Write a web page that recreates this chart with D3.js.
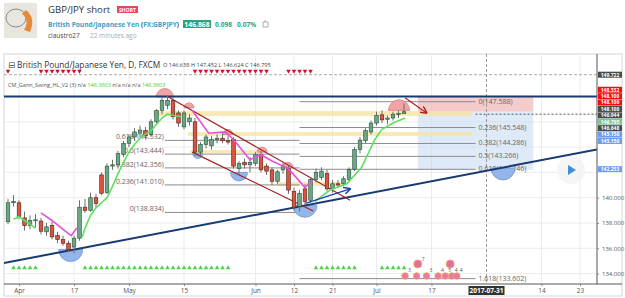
<!DOCTYPE html>
<html lang="en">
<head>
<meta charset="UTF-8">
<title>GBP/JPY short</title>
<script src="https://cdn.jsdelivr.net/npm/d3@7"></script>
<style>
    body { margin: 0; background: #fff; }
    svg text { font-family: "Open Sans", "DejaVu Sans", sans-serif; }
</style>
</head>
<body>
<svg id="chart" width="625" height="298"></svg>
<script>
// daily candles, index 0 = 2017-03-30 ... index 72 = 2017-07-10
const opens  = [138.1,139.6,139.6,138.4,137.8,138.2,138.15,137.3,137.8,137.0,136.7,136.4,136.1,136.8,139.25,139.0,140.0,141.8,140.4,142.5,142.6,143.4,144.3,144.8,145.1,145.3,145.0,146.0,146.9,147.3,147.7,146.7,145.6,146.0,146.0,143.6,144.2,144.1,144.6,144.7,144.5,144.6,142.3,142.8,142.6,142.7,143.4,142.5,142.2,141.3,142.2,142.3,140.5,139.3,140.7,139.8,141.45,141.6,141.9,140.7,141.1,141.1,141.45,142.25,143.8,144.5,145.2,145.9,146.55,146.2,146.3,146.6,146.638];
const highs  = [139.9,140.2,139.8,138.9,138.6,138.7,138.4,138.0,138.1,137.3,137.0,136.6,137.0,139.8,139.9,140.4,140.3,142.0,142.7,143.0,143.7,144.5,145.0,145.5,145.7,145.6,146.2,147.0,147.9,148.1,147.9,146.9,146.9,146.6,146.3,144.4,145.0,144.9,145.0,145.1,144.9,144.8,142.9,143.1,143.2,143.6,143.7,142.7,142.4,142.2,142.8,142.6,140.8,140.6,141.1,141.6,142.3,142.4,142.2,141.4,141.4,141.7,142.4,144.0,144.8,145.5,146.1,146.8,146.9,146.5,146.8,146.9,147.452];
const lows   = [137.9,139.3,138.3,137.4,137.5,137.6,137.1,137.0,136.7,136.4,136.2,135.7,135.6,136.6,138.8,138.9,139.2,140.2,140.3,142.2,142.3,143.2,144.0,144.5,144.8,144.6,144.8,145.8,146.6,147.0,146.2,145.6,145.4,145.7,143.3,143.2,143.9,143.8,144.3,144.3,144.2,142.3,141.8,142.3,142.0,142.5,142.0,141.8,141.0,141.1,141.9,140.3,139.0,138.9,139.4,139.6,141.2,141.4,140.5,140.4,140.8,140.9,141.3,142.1,143.5,144.3,145.0,145.7,145.9,145.8,146.1,146.3,146.624];
const closes = [139.6,139.7,138.5,137.8,138.2,138.25,137.35,137.7,136.9,136.7,136.4,135.9,136.8,139.25,139.0,140.0,139.55,140.35,142.5,142.6,143.5,144.3,144.8,145.2,145.35,144.9,146.0,146.9,147.7,147.7,146.4,145.9,146.7,146.3,143.6,144.2,144.8,144.6,144.7,144.5,144.4,142.5,142.7,142.6,142.8,143.4,142.2,142.1,141.3,142.05,142.45,140.6,139.2,140.35,139.7,141.45,142.0,142.1,140.7,141.1,141.0,141.5,142.25,143.8,144.55,145.3,145.9,146.5,146.15,146.3,146.6,146.65,146.795];

// time axis
const tickBars   = [2, 12, 22, 32, 45, 52, 59, 67, 77, 97, 104];
const tickLabels = ["Apr", "17", "May", "15", "Jun", "12", "21", "Jul", "17", "14", "23"];
const cursorBar = 87, cursorLabel = "2017-07-31";

// price axis
const priceTicks = [134, 136, 138, 140];
const gridPrices = [134, 136, 138, 140, 142, 144, 146, 148];
const axisTags = [
    {v: "149.722", kind: "gray"}, {v: "148.532", kind: "red"}, {v: "148.100", kind: "red"},
    {v: "148.100", kind: "red"}, {v: "148.100", kind: "gray"}, {v: "146.944", kind: "gray"},
    {v: "146.795", kind: "green"}, {v: "146.648", kind: "gray"}, {v: "145.150", kind: "blue"},
    {v: "145.150", kind: "blue"}, {v: "142.253", kind: "blue"}
];

// Gann swing lines [bar, price]
const gannUp = [
    [[1,138.3],[2,138.5],[3,138.2],[5,137.6]],
    [[13.5,136.9],[14,137.6],[15,138.6],[16,139.2],[17,139.6],[18,140.0],[19,140.9],[20,141.9],[21,142.8],[22,143.6],[23,144.2],[24,144.7],[25,145.0],[26,145.3],[27,145.8],[28,146.3],[29,146.6],[30,146.5],[31.5,146.4]],
    [[55.8,139.7],[58.5,140.6],[61.6,141.1],[64.3,142.4],[66.7,144.6],[68,145.4],[70,145.9],[72.2,146.3]]
];
const gannDown = [
    [[6,138.8],[8,138.2],[10,137.5],[11.5,137.0],[12.5,137.6]],
    [[33.5,146.9],[36.5,145.1],[39.5,145.2],[41,144.6],[44,143.0],[46,143.4],[48,142.9],[51,142.3],[54,140.8],[55.3,141.4]]
];

// swing pivots [bar, price, strength]
const pivotHighs = [[28.5,147.96,2],[32.9,147.1,1],[40,145.0,1],[46.2,143.6,1],[50.9,142.4,1],[71.1,146.9,2.6]];
const pivotLows  = [[11.4,135.9,3],[34.5,143.5,1],[42,142.0,2],[54,139.4,3],[90,142.35,3]];

// drawings
const resistance = 148.0;
const trendline = [[0, 134.9], [107, 143.8]];
const channelUpper = [[29, 148.0], [62.2, 139.8]];
const channelLower = [[33.5, 143.6], [55.5, 138.95]];
const upArrow   = [[54.1, 139.55], [62.2, 140.7]];
const downArrow = [[72.2, 147.9], [76.1, 146.7]];
const zones = [
    {from: 26.4, to: 84.4, lo: 146.45, hi: 146.85},
    {from: 32.7, to: 84.4, lo: 144.88, hi: 145.19},
    {from: 33.1, to: 46.4, lo: 143.53, hi: 143.77},
    {from: 48.9, to: 61.3, lo: 140.93, hi: 141.24}
];
const fibA = {from: 28.5, to: 53, ratios: ["0.618","0.5","0.382","0.236","0"], prices: [144.532,143.444,142.356,141.010,138.834]};
const fibB = {from: 53, to: 85, ratios: ["0","0.236","0.382","0.5","0.618","1.618"], prices: [147.588,145.548,144.286,143.266,142.246,133.602]};
const position = {from: 74.5, to: 95.5, stop: 148.05, entry: 146.8, target: 142.2};
const highLevel = 149.722, lastLevel = 146.6;

const sellBars = [0,6,7,8,9,10,11,12,13,34,35,36,37,38,39,40,41,42,43,44,45,46,47,51,52,53,54,55];
const buyBars  = [1,2,3,4,5,14,15,16,17,18,19,20,21,22,23,24,25,26,27,28,29,30,31,32,33,34,35,36,37,38,39,40,56,57,58,59,60,61,62,63,68,69,70,71,72];
const eventBars   = [72.2, 74.3, 76.1, 78.2, 79.5, 80.7, 81.6];
const eventCounts = ["3", "", "3", "4", "5", "4", "4"];
const bigEvents   = [[74.5, "7"], [80.4, ""]];

const svg = d3.select("#chart");
const plotL = 4, plotR = 597, plotT = 54, plotB = 284;

const x = d3.scaleLinear().domain([-8 / 5.5, (plotR - 8) / 5.5]).range([0, plotR]);
const y = d3.scaleLinear().domain([134, 140]).range([273.6, 197.7]);
const rScale = d3.scaleLinear().domain([1, 3]).range([5, 12]);

const defs = svg.append("defs");
defs.append("clipPath").attr("id", "plotClip")
    .append("rect").attr("x", plotL).attr("y", plotT).attr("width", plotR - plotL).attr("height", plotB - plotT);
[["arrRed", "#b0201e"], ["arrBlue", "#1f3fb5"]].forEach(([id, c]) => {
    defs.append("marker").attr("id", id).attr("viewBox", "0 0 10 10").attr("refX", 9).attr("refY", 5)
        .attr("markerWidth", 6).attr("markerHeight", 6).attr("orient", "auto")
        .append("path").attr("d", "M0,0 L10,5 L0,10").attr("fill", "none").attr("stroke", c).attr("stroke-width", 2);
});

// ---------- header ----------
const head = svg.append("g");
head.append("rect").attr("x", 4).attr("y", 3).attr("width", 33).attr("height", 35).attr("fill", "#e9e6df");
head.append("ellipse").attr("cx", 16).attr("cy", 18).attr("rx", 10).attr("ry", 9).attr("fill", "none").attr("stroke", "#8a8a8a").attr("stroke-width", 1);
head.append("path").attr("d", "M26,10 Q36,18 30,32 L24,30 Q30,20 22,14 Z").attr("fill", "#e58a3a");
head.append("text").attr("x", 48).attr("y", 13).attr("font-size", 9.6).attr("fill", "#333").text("GBP/JPY short");
head.append("rect").attr("x", 117).attr("y", 6).attr("width", 21).attr("height", 7).attr("fill", "#e8455c");
head.append("text").attr("x", 127.5).attr("y", 11.5).attr("text-anchor", "middle").attr("font-size", 5).attr("font-weight", "bold").attr("fill", "#fff").text("SHORT");
const sub = head.append("text").attr("x", 48).attr("y", 26.5).attr("font-size", 6.6).attr("font-weight", "bold");
[["British Pound/Japanese Yen", "#35a2c8"], [" (", "#555"], ["FX:GBPJPY", "#35a2c8"], [")", "#555"]]
    .forEach(([t, c]) => sub.append("tspan").attr("fill", c).text(t));
head.append("rect").attr("x", 183).attr("y", 20).attr("width", 28).attr("height", 8).attr("fill", "#2aa57a");
head.append("text").attr("x", 197).attr("y", 26.5).attr("text-anchor", "middle").attr("font-size", 6.8).attr("font-weight", "bold").attr("fill", "#fff").text("146.868");
head.append("text").attr("x", 215).attr("y", 26.5).attr("font-size", 6.6).attr("font-weight", "bold").attr("fill", "#2aa57a").text("0.098");
head.append("text").attr("x", 237).attr("y", 26.5).attr("font-size", 6.6).attr("font-weight", "bold").attr("fill", "#2aa57a").text("0.07%");
head.append("path").attr("d", "M263,22 h5 v5 h-5 Z M265,20 v2").attr("fill", "none").attr("stroke", "#999").attr("stroke-width", 0.8);
head.append("text").attr("x", 48).attr("y", 37.5).attr("font-size", 6.5).attr("fill", "#444").text("claustro27");
head.append("text").attr("x", 90).attr("y", 37.5).attr("font-size", 6.5).attr("fill", "#aaa").text("22 minutes ago");

// ---------- frame & grid ----------
svg.append("rect").attr("x", plotL).attr("y", plotT).attr("width", 622 - plotL).attr("height", 296 - plotT)
    .attr("fill", "none").attr("stroke", "#d6d6d6").attr("stroke-width", 1);

const plot = svg.append("g").attr("clip-path", "url(#plotClip)");
plot.selectAll(".vgrid").data(tickBars).join("line").attr("class", "vgrid")
    .attr("x1", d => x(d)).attr("x2", d => x(d)).attr("y1", plotT).attr("y2", plotB)
    .attr("stroke", "#ececec").attr("stroke-width", 1);
plot.selectAll(".hgrid").data(gridPrices).join("line").attr("class", "hgrid")
    .attr("x1", plotL).attr("x2", plotR).attr("y1", d => y(d)).attr("y2", d => y(d))
    .attr("stroke", "#ececec").attr("stroke-width", 1);

// position tool background
plot.append("rect").attr("x", x(position.from)).attr("width", x(position.to) - x(position.from))
    .attr("y", y(position.stop)).attr("height", y(position.entry) - y(position.stop))
    .attr("fill", "#f3b9b9").attr("opacity", 0.75);
plot.append("rect").attr("x", x(position.from)).attr("width", x(position.to) - x(position.from))
    .attr("y", y(position.entry)).attr("height", y(position.target) - y(position.entry))
    .attr("fill", "#c9dcf3").attr("opacity", 0.6);

// zones
plot.selectAll(".zone").data(zones).join("rect").attr("class", "zone")
    .attr("x", d => x(d.from)).attr("width", d => x(d.to) - x(d.from))
    .attr("y", d => y(d.hi)).attr("height", d => y(d.lo) - y(d.hi))
    .attr("fill", "#f8e3a1").attr("opacity", 0.8);

// dashed levels
plot.append("line").attr("x1", plotL).attr("x2", plotR).attr("y1", y(highLevel)).attr("y2", y(highLevel))
    .attr("stroke", "#aaa").attr("stroke-dasharray", "3,2");
plot.append("line").attr("x1", x(85)).attr("x2", plotR).attr("y1", y(lastLevel)).attr("y2", y(lastLevel))
    .attr("stroke", "#555").attr("stroke-dasharray", "2,2");
plot.append("line").attr("x1", x(cursorBar)).attr("x2", x(cursorBar)).attr("y1", plotT).attr("y2", plotB)
    .attr("stroke", "#999").attr("stroke-dasharray", "3,2");

// fibonacci retracements
function drawFib(f, side) {
    const g = plot.append("g");
    g.selectAll("line").data(f.prices).join("line")
        .attr("x1", x(f.from)).attr("x2", x(f.to)).attr("y1", d => y(d)).attr("y2", d => y(d))
        .attr("stroke", "#8c8c8c").attr("stroke-width", 1);
    g.selectAll("text").data(f.prices).join("text")
        .attr("x", side === "left" ? x(f.from) - 1 : x(f.to) + 3)
        .attr("y", d => side === "left" ? y(d) - 1 : y(d) + 2)
        .attr("text-anchor", side === "left" ? "end" : "start")
        .attr("font-size", 7).attr("fill", "#666")
        .text((d, i) => f.ratios[i] + "(" + d3.format(".3f")(d) + ")");
}
drawFib(fibA, "left");
drawFib(fibB, "right");

// pivots (half domes)
const arcUp = d3.arc().innerRadius(0).startAngle(-Math.PI / 2).endAngle(Math.PI / 2);
const arcDn = d3.arc().innerRadius(0).startAngle(Math.PI / 2).endAngle(Math.PI * 1.5);
plot.selectAll(".ph").data(pivotHighs).join("path").attr("class", "ph")
    .attr("transform", d => `translate(${x(d[0])},${y(d[1])})`)
    .attr("d", d => arcUp({outerRadius: rScale(d[2])}))
    .attr("fill", "#f2a3a3").attr("stroke", "#e07e7e").attr("stroke-width", 0.8);
plot.selectAll(".pl").data(pivotLows).join("path").attr("class", "pl")
    .attr("transform", d => `translate(${x(d[0])},${y(d[1])})`)
    .attr("d", d => arcDn({outerRadius: rScale(d[2])}))
    .attr("fill", "#93b5ea").attr("stroke", "#6f95d8").attr("stroke-width", 0.8);

// lines
const lineOf = d3.line().x(d => x(d[0])).y(d => y(d[1]));
function extend(pts) {
    const [a, b] = pts, k = (b[1] - a[1]) / (b[0] - a[0]);
    const d0 = x.domain()[0], d1 = x.domain()[1];
    return [[d0, a[1] + k * (d0 - a[0])], [d1, a[1] + k * (d1 - a[0])]];
}
plot.append("line").attr("x1", plotL).attr("x2", plotR).attr("y1", y(resistance)).attr("y2", y(resistance))
    .attr("stroke", "#173a72").attr("stroke-width", 2);
plot.append("path").attr("d", lineOf(extend(trendline))).attr("stroke", "#173a72").attr("stroke-width", 2).attr("fill", "none");
[channelUpper, channelLower].forEach(c => plot.append("path").attr("d", lineOf(c))
    .attr("stroke", "#a3201f").attr("stroke-width", 1.2).attr("fill", "none"));

// candles
const bars = d3.range(closes.length);
const cg = plot.append("g");
cg.selectAll(".wick").data(bars).join("line").attr("class", "wick")
    .attr("x1", i => x(i)).attr("x2", i => x(i)).attr("y1", i => y(highs[i])).attr("y2", i => y(lows[i]))
    .attr("stroke", "#6f6f6f").attr("stroke-width", 1);
cg.selectAll(".body").data(bars).join("rect").attr("class", "body")
    .attr("x", i => x(i) - 1.8).attr("width", 3.6)
    .attr("y", i => y(Math.max(opens[i], closes[i])))
    .attr("height", i => Math.max(1, Math.abs(y(opens[i]) - y(closes[i]))))
    .attr("fill", i => closes[i] >= opens[i] ? "#6ba583" : "#d75442")
    .attr("stroke", i => closes[i] >= opens[i] ? "#225437" : "#5b1a13").attr("stroke-width", 0.6);

// gann swing lines
gannUp.forEach(s => plot.append("path").attr("d", lineOf(s)).attr("fill", "none").attr("stroke", "#5fe05f").attr("stroke-width", 1.6));
gannDown.forEach(s => plot.append("path").attr("d", lineOf(s)).attr("fill", "none").attr("stroke", "#e44fe0").attr("stroke-width", 1.6));

// arrows
plot.append("path").attr("d", lineOf(upArrow)).attr("stroke", "#1f3fb5").attr("stroke-width", 1.2).attr("marker-end", "url(#arrBlue)");
plot.append("path").attr("d", lineOf(downArrow)).attr("stroke", "#b0201e").attr("stroke-width", 1.2).attr("marker-end", "url(#arrRed)");

// signal triangles
const tri = d3.symbol().type(d3.symbolTriangle).size(9);
plot.selectAll(".sell").data(sellBars).join("path").attr("class", "sell")
    .attr("transform", d => `translate(${x(d)},71) rotate(180)`).attr("d", tri).attr("fill", "#d0112b");
plot.selectAll(".buy").data(buyBars).join("path").attr("class", "buy")
    .attr("transform", d => `translate(${x(d)},268)`).attr("d", tri).attr("fill", "#45d745");

// events
plot.selectAll(".ev").data(eventBars).join("circle").attr("class", "ev")
    .attr("cx", d => x(d)).attr("cy", 276).attr("r", 3.3)
    .attr("fill", "#e57aa6").attr("stroke", "#f2a35c").attr("stroke-width", 0.8);
plot.selectAll(".evt").data(eventBars).join("text").attr("class", "evt")
    .attr("x", d => x(d) + 3).attr("y", 272).attr("font-size", 5).attr("fill", "#555")
    .text((d, i) => eventCounts[i]);
plot.selectAll(".bev").data(bigEvents).join("circle").attr("class", "bev")
    .attr("cx", d => x(d[0])).attr("cy", 264).attr("r", 4)
    .attr("fill", "#e06f9b").attr("stroke", "#f2a35c").attr("stroke-width", 0.8);
plot.selectAll(".bevt").data(bigEvents).join("text").attr("class", "bevt")
    .attr("x", d => x(d[0]) + 4).attr("y", 261).attr("font-size", 5).attr("fill", "#555").text(d => d[1]);

// play button
svg.append("circle").attr("cx", 571).attr("cy", 170).attr("r", 14).attr("fill", "#f3f3f3").attr("opacity", 0.8);
svg.append("path").attr("d", "M568,165 L576,170 L568,175 Z").attr("fill", "#3d8fd8");

// legend texts
svg.append("text").attr("x", 8).attr("y", 67.5).attr("font-size", 8.3).attr("fill", "#333").text("⊟ British Pound/Japanese Yen, D, FXCM");
svg.append("text").attr("x", 163).attr("y", 67).attr("font-size", 5.6).attr("fill", "#444").text("O 146.638 H 147.452 L 146.624 C 146.795");
const ind = svg.append("text").attr("x", 8).attr("y", 86.5).attr("font-size", 5.5).attr("fill", "#555");
[["CM_Gann_Swing_HL_V2 (3)  ", "#555"], ["n/a ", "#555"], ["146.3603 ", "#33cc33"], ["n/a n/a n/a ", "#555"], ["146.3603", "#33cc33"]]
    .forEach(([t, c]) => ind.append("tspan").attr("fill", c).text(t));

// ---------- axes ----------
svg.append("line").attr("x1", plotL).attr("x2", 622).attr("y1", plotB).attr("y2", plotB).attr("stroke", "#555");
svg.append("line").attr("x1", plotR).attr("x2", plotR).attr("y1", plotT).attr("y2", plotB).attr("stroke", "#555");

const xAxis = svg.append("g").attr("transform", `translate(0,${plotB})`)
    .call(d3.axisBottom(x).tickValues(tickBars).tickSize(2).tickFormat((d, i) => tickLabels[i]));
xAxis.select(".domain").remove();
xAxis.selectAll("text").attr("font-size", 6.5).attr("fill", "#555").attr("dy", "0.55em");
xAxis.selectAll("line").attr("stroke", "#888");
svg.append("rect").attr("x", x(cursorBar) - 18).attr("y", 286).attr("width", 36).attr("height", 9).attr("fill", "#333");
svg.append("text").attr("x", x(cursorBar)).attr("y", 293).attr("text-anchor", "middle").attr("font-size", 6.5)
    .attr("font-weight", "bold").attr("fill", "#fff").text(cursorLabel);

const yAxis = svg.append("g").attr("transform", `translate(${plotR},0)`)
    .call(d3.axisRight(y).tickValues(priceTicks).tickSize(2).tickFormat(d3.format(".3f")));
yAxis.select(".domain").remove();
yAxis.selectAll("text").attr("font-size", 6).attr("fill", "#555").attr("x", 5);
yAxis.selectAll("line").attr("stroke", "#888");

// stacked price tags
const tagColors = {gray: "#4a4a4a", red: "#f20d0d", green: "#7cc49a", blue: "#6d9cf0"};
let lastY = -Infinity;
const tagY = axisTags.map(t => {
    let yy = Math.max(y(+t.v), lastY + 6.4);
    lastY = yy;
    return yy;
});
svg.selectAll(".tag").data(axisTags).join("rect").attr("class", "tag")
    .attr("x", plotR + 1).attr("width", 24).attr("y", (d, i) => tagY[i] - 3).attr("height", 6)
    .attr("fill", d => tagColors[d.kind]);
svg.selectAll(".tagt").data(axisTags).join("text").attr("class", "tagt")
    .attr("x", plotR + 13).attr("y", (d, i) => tagY[i] + 1.8).attr("text-anchor", "middle")
    .attr("font-size", 5).attr("font-weight", "bold").attr("fill", "#fff").text(d => d.v);
</script>
